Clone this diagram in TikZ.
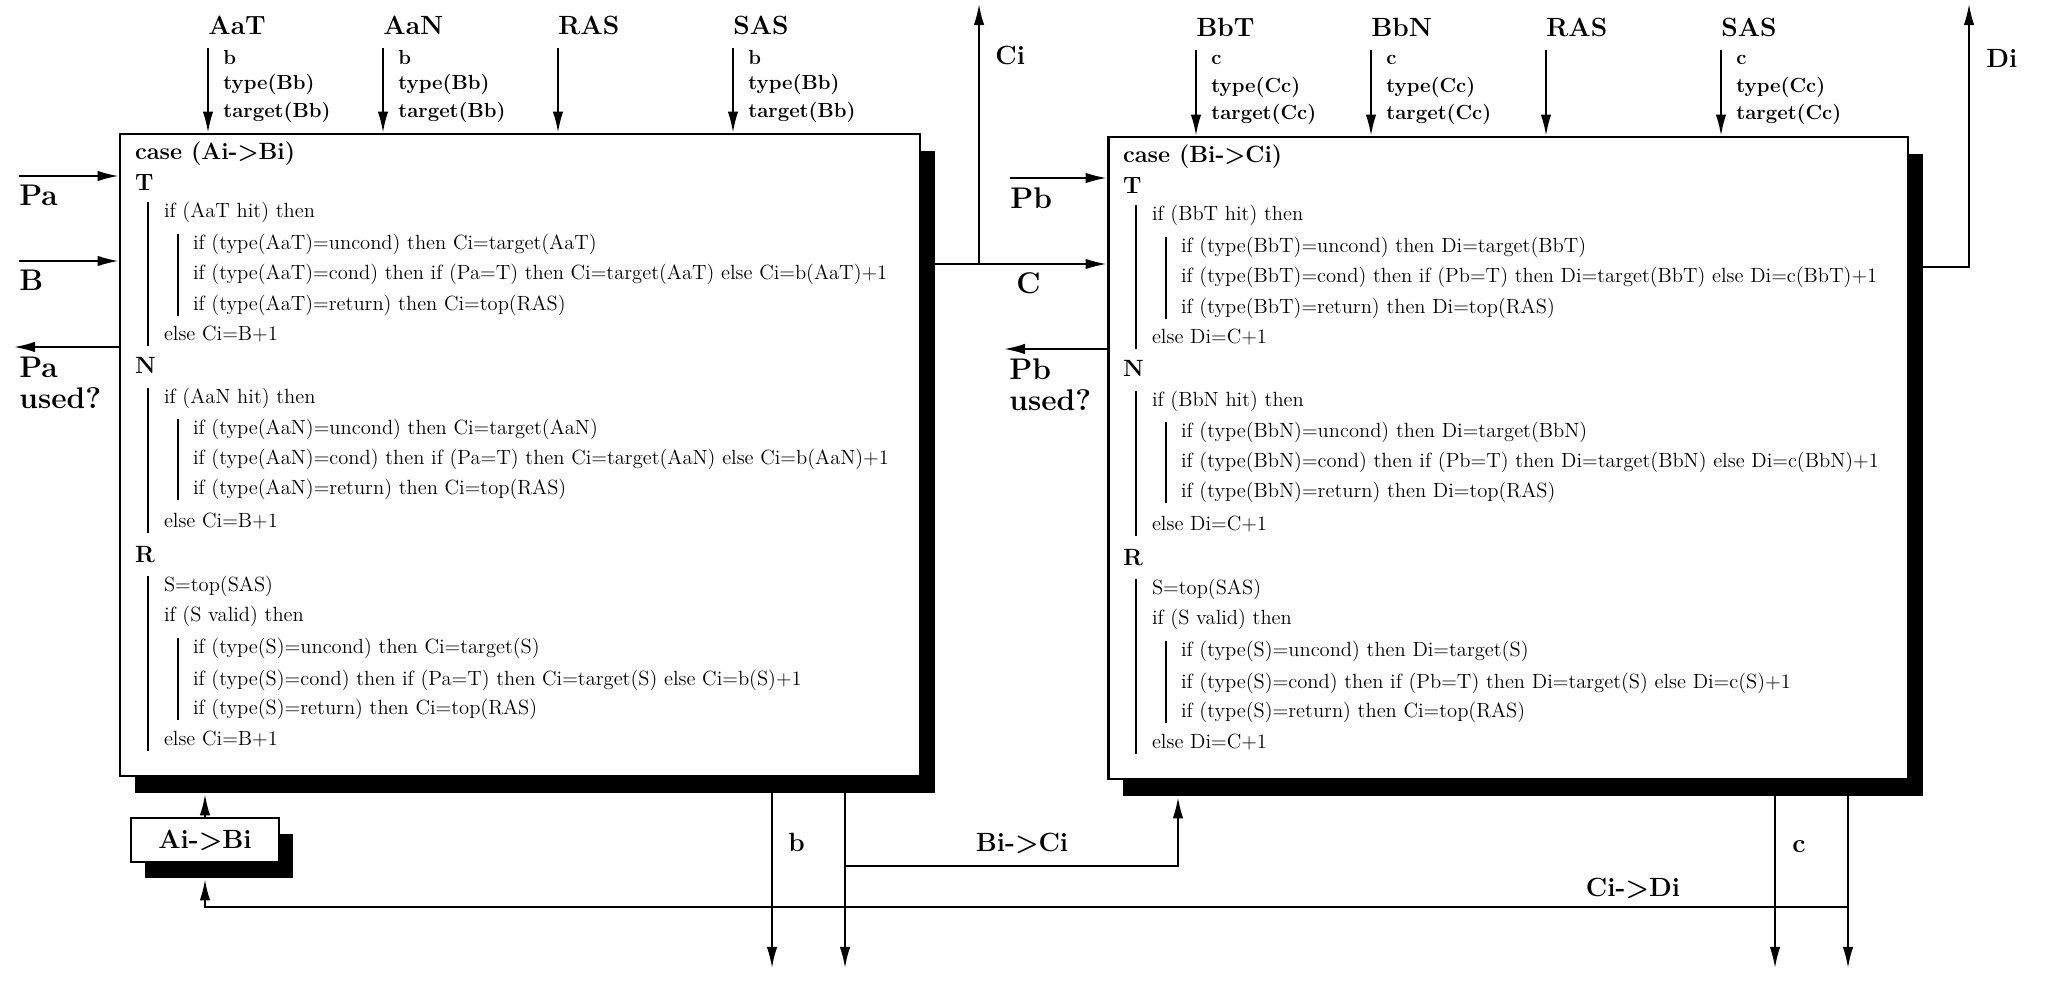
\documentclass[tikz,border=0pt]{standalone}
\usetikzlibrary{arrows.meta,shadows}
\tikzset{
  stagebox/.style={rectangle, draw, line width=1.6pt, fill=white, inner sep=0pt,
    minimum width=16cm, minimum height=12.84cm,
    drop shadow={shadow xshift=0.3cm, shadow yshift=-0.34cm, fill=black, opacity=1}},
  selbox/.style={rectangle, draw, line width=1.6pt, fill=white, inner sep=0pt,
    minimum width=2.96cm, minimum height=0.88cm, font=\fontsize{15}{18}\selectfont\bfseries,
    drop shadow={shadow xshift=0.28cm, shadow yshift=-0.32cm, fill=black, opacity=1}},
  code/.style={anchor=west, inner sep=0pt, font=\fontsize{11.7}{13.5}\selectfont, text height=8.8pt, text depth=2.9pt},
  head/.style={anchor=west, inner sep=0pt, font=\fontsize{13.4}{15}\selectfont\bfseries},
  lbl/.style={anchor=west, inner sep=0pt, font=\fontsize{15}{18}\selectfont\bfseries},
  side/.style={anchor=west, inner sep=0pt, align=left, font=\fontsize{17}{17.5}\selectfont\bfseries},
  field/.style={anchor=west, inner sep=0pt, font=\fontsize{11.6}{14}\selectfont\bfseries},
  bar/.style={line width=1.1pt},
  sig/.style={line width=1.1pt, -{Latex[length=12pt,width=6pt]}}
}
\begin{document}
\begin{tikzpicture}[x=0.02cm, y=-0.02cm]
\useasboundingbox (0,0) rectangle (2048,982);

\node (stageA) [stagebox] at (520,455) {};
\node (stageB) [stagebox] at (1508,458) {};
\node (selAB) [selbox] at (205,840) {Ai->Bi};

\begin{scope}[shift={(stageA.north west)}]
\node (aCase) [head] at (16,21) {case (Ai->Bi)};
\node (aT) [head] at (16,50) {T};
\node (aT1) [code] at (45,80) {if (AaT hit) then};
\node (aT2) [code] at (74,112) {if (type(AaT)=uncond) then Ci=target(AaT)};
\node (aT3) [code] at (74,142) {if (type(AaT)=cond) then if (Pa=T) then Ci=target(AaT) else Ci=b(AaT)+1};
\node (aT4) [code] at (74,173) {if (type(AaT)=return) then Ci=top(RAS)};
\node (aT5) [code] at (45,203) {else Ci=B+1};
\node (aN) [head] at (16,233) {N};
\node (aN1) [code] at (45,266) {if (AaN hit) then};
\node (aN2) [code] at (74,297) {if (type(AaN)=uncond) then Ci=target(AaN)};
\node (aN3) [code] at (74,327) {if (type(AaN)=cond) then if (Pa=T) then Ci=target(AaN) else Ci=b(AaN)+1};
\node (aN4) [code] at (74,357) {if (type(AaN)=return) then Ci=top(RAS)};
\node (aN5) [code] at (45,390) {else Ci=B+1};
\node (aR) [head] at (16,422) {R};
\node (aR1) [code] at (45,454) {S=top(SAS)};
\node (aR2) [code] at (45,484) {if (S valid) then};
\node (aR3) [code] at (74,516) {if (type(S)=uncond) then Ci=target(S)};
\node (aR4) [code] at (74,548) {if (type(S)=cond) then if (Pa=T) then Ci=target(S) else Ci=b(S)+1};
\node (aR5) [code] at (74,577) {if (type(S)=return) then Ci=top(RAS)};
\node (aR6) [code] at (45,608) {else Ci=B+1};
\end{scope}
\draw[bar] ([xshift=-0.31cm]aT1.north west) -- ([xshift=-0.31cm]aT5.south west);
\draw[bar] ([xshift=-0.29cm]aT2.north west) -- ([xshift=-0.29cm]aT4.south west);
\draw[bar] ([xshift=-0.31cm]aN1.north west) -- ([xshift=-0.31cm]aN5.south west);
\draw[bar] ([xshift=-0.29cm]aN2.north west) -- ([xshift=-0.29cm]aN4.south west);
\draw[bar] ([xshift=-0.31cm]aR1.north west) -- ([xshift=-0.31cm]aR6.south west);
\draw[bar] ([xshift=-0.29cm]aR3.north west) -- ([xshift=-0.29cm]aR5.south west);

\begin{scope}[shift={(stageB.north west)}]
\node (bCase) [head] at (16,21) {case (Bi->Ci)};
\node (bT) [head] at (16,50) {T};
\node (bT1) [code] at (45,80) {if (BbT hit) then};
\node (bT2) [code] at (74,112) {if (type(BbT)=uncond) then Di=target(BbT)};
\node (bT3) [code] at (74,142) {if (type(BbT)=cond) then if (Pb=T) then Di=target(BbT) else Di=c(BbT)+1};
\node (bT4) [code] at (74,173) {if (type(BbT)=return) then Di=top(RAS)};
\node (bT5) [code] at (45,203) {else Di=C+1};
\node (bN) [head] at (16,233) {N};
\node (bN1) [code] at (45,266) {if (BbN hit) then};
\node (bN2) [code] at (74,297) {if (type(BbN)=uncond) then Di=target(BbN)};
\node (bN3) [code] at (74,327) {if (type(BbN)=cond) then if (Pb=T) then Di=target(BbN) else Di=c(BbN)+1};
\node (bN4) [code] at (74,357) {if (type(BbN)=return) then Di=top(RAS)};
\node (bN5) [code] at (45,390) {else Di=C+1};
\node (bR) [head] at (16,422) {R};
\node (bR1) [code] at (45,454) {S=top(SAS)};
\node (bR2) [code] at (45,484) {if (S valid) then};
\node (bR3) [code] at (74,516) {if (type(S)=uncond) then Di=target(S)};
\node (bR4) [code] at (74,548) {if (type(S)=cond) then if (Pb=T) then Di=target(S) else Di=c(S)+1};
\node (bR5) [code] at (74,577) {if (type(S)=return) then Ci=top(RAS)};
\node (bR6) [code] at (45,608) {else Di=C+1};
\end{scope}
\draw[bar] ([xshift=-0.31cm]bT1.north west) -- ([xshift=-0.31cm]bT5.south west);
\draw[bar] ([xshift=-0.29cm]bT2.north west) -- ([xshift=-0.29cm]bT4.south west);
\draw[bar] ([xshift=-0.31cm]bN1.north west) -- ([xshift=-0.31cm]bN5.south west);
\draw[bar] ([xshift=-0.29cm]bN2.north west) -- ([xshift=-0.29cm]bN4.south west);
\draw[bar] ([xshift=-0.31cm]bR1.north west) -- ([xshift=-0.31cm]bR6.south west);
\draw[bar] ([xshift=-0.29cm]bR3.north west) -- ([xshift=-0.29cm]bR5.south west);

\node (AaT) [lbl] at (208,25) {AaT};
\node (AaN) [lbl] at (383,25) {AaN};
\node (RASa) [lbl] at (558,25) {RAS};
\node (SASa) [lbl] at (733,25) {SAS};
\node (BbT) [lbl] at (1196,27) {BbT};
\node (BbN) [lbl] at (1371,27) {BbN};
\node (RASb) [lbl] at (1546,27) {RAS};
\node (SASb) [lbl] at (1721,27) {SAS};
\foreach \n/\s in {AaT/stageA, AaN/stageA, RASa/stageA, SASa/stageA, BbT/stageB, BbN/stageB, RASb/stageB, SASb/stageB}
  \draw[sig] ([yshift=-0.26cm]\n.south west) -- (\n.south west |- \s.north);

\node (AaTb) [field] at (223,57) {b};
\node (AaTt) [field] at (223,84) {type(Bb)};
\node (AaTg) [field] at (223,112) {target(Bb)};
\node (AaNb) [field] at (398,57) {b};
\node (AaNt) [field] at (398,84) {type(Bb)};
\node (AaNg) [field] at (398,112) {target(Bb)};
\node (SASab) [field] at (748,57) {b};
\node (SASat) [field] at (748,84) {type(Bb)};
\node (SASag) [field] at (748,112) {target(Bb)};
\node (BbTc) [field] at (1211,60) {c};
\node (BbTt) [field] at (1211,87) {type(Cc)};
\node (BbTg) [field] at (1211,114) {target(Cc)};
\node (BbNc) [field] at (1386,60) {c};
\node (BbNt) [field] at (1386,87) {type(Cc)};
\node (BbNg) [field] at (1386,114) {target(Cc)};
\node (SASbc) [field] at (1736,60) {c};
\node (SASbt) [field] at (1736,87) {type(Cc)};
\node (SASbg) [field] at (1736,114) {target(Cc)};

\coordinate (top) at (0,4);
\coordinate (bot) at (0,968);

\node (Pa) [side] at (19,195) {Pa};
\node (Bin) [side] at (19,280) {B};
\node (PaUsed) [side] at (19,383) {Pa\\used?};
\coordinate (PaIn) at (19,176);
\coordinate (BIn) at (19,261);
\coordinate (PaOut) at (14,347);
\draw[sig] (PaIn) -- (PaIn -| stageA.west);
\draw[sig] (BIn) -- (BIn -| stageA.west);
\draw[sig] (PaOut -| stageA.west) -- (PaOut);

\node (Pb) [side] at (1010,198) {Pb};
\node (Cin) [side] at (1016,283) {C};
\node (PbUsed) [side] at (1009,385) {Pb\\used?};
\coordinate (PbIn) at (1010,178);
\coordinate (PbOut) at (1004,349);
\draw[sig] (PbIn) -- (PbIn -| stageB.west);
\draw[sig] (PbOut -| stageB.west) -- (PbOut);

\coordinate (Csplit) at (979,264);
\draw[sig] (Csplit -| stageA.east) -- (Csplit -| stageB.west);
\draw[sig] (Csplit) -- (Csplit |- top);
\node (Ci) [lbl] at (995,55) {Ci};
\coordinate (Dsplit) at (1969,267);
\draw[sig] (Dsplit -| stageB.east) -- (Dsplit) -- (Dsplit |- top);
\node (Di) [lbl] at (1986,58) {Di};

\coordinate (shA) at ([yshift=-0.34cm]stageA.south);
\coordinate (shB) at ([yshift=-0.34cm]stageB.south);
\coordinate (b1) at (772,793);
\coordinate (b2) at (845,793);
\draw[sig] (b1) -- (b1 |- bot);
\draw[sig] (b2) -- (b2 |- bot);
\node (bout) [lbl] at (788,842) {b};
\coordinate (BCturn) at (1178,866);
\draw[sig] (b2 |- BCturn) -- (BCturn) -- (BCturn |- shB);
\node (BiCi) [lbl, anchor=center] at (1022,843) {Bi->Ci};
\coordinate (c1) at (1775,796);
\coordinate (c2) at (1848,796);
\draw[sig] (c1) -- (c1 |- bot);
\draw[sig] (c2) -- (c2 |- bot);
\node (cout) [lbl] at (1792,847) {c};
\coordinate (CDline) at (1848,907);
\draw[sig] (CDline) -| ([yshift=-0.32cm]selAB.south);
\node (CiDi) [lbl, anchor=center] at (1633,888) {Ci->Di};
\draw[sig] (selAB.north) -- (selAB.north |- shA);
\end{tikzpicture}
\end{document}
